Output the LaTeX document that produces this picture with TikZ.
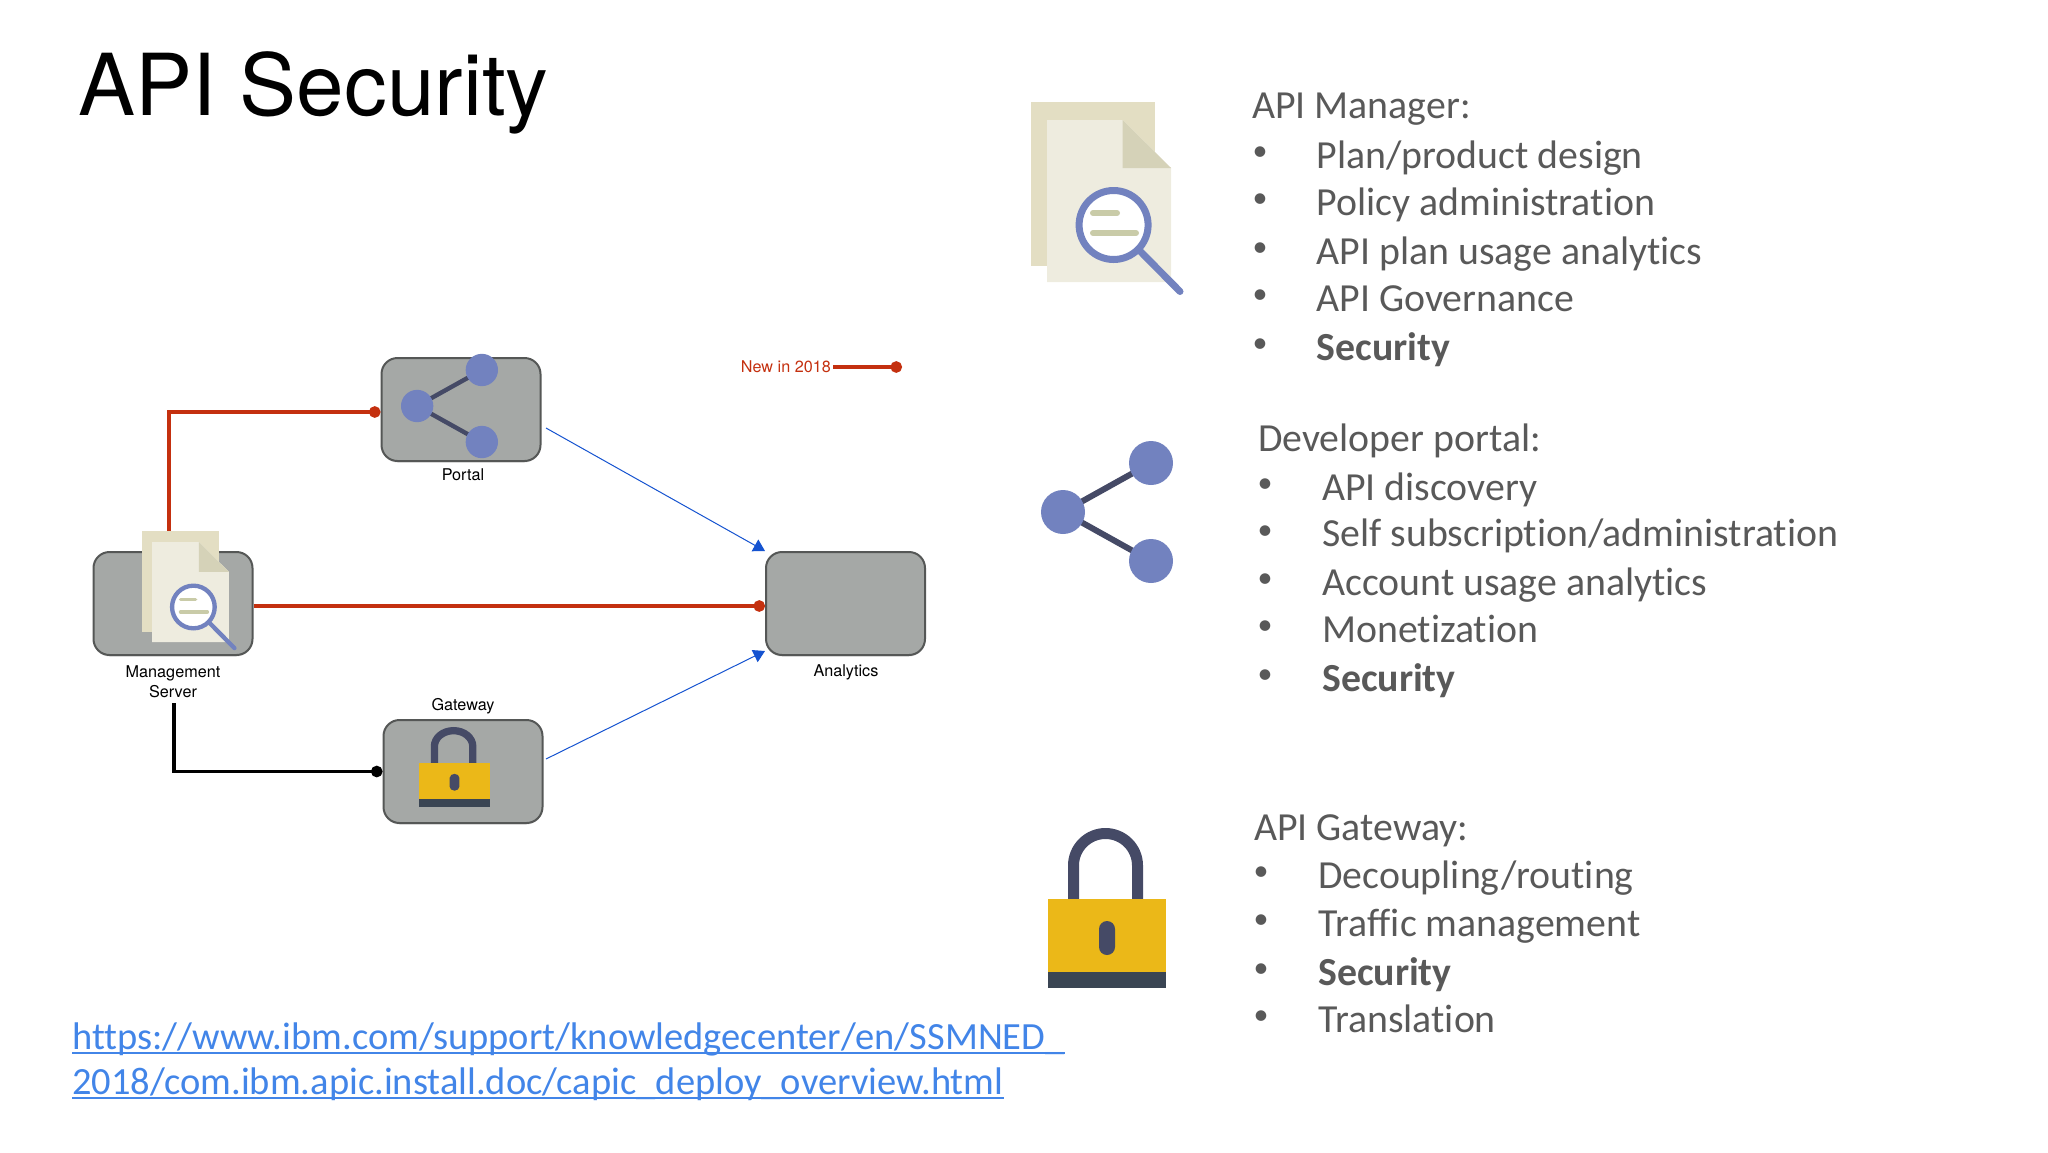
\documentclass[tikz,border=0pt]{standalone}
\usepackage{fontspec}
\setmainfont{Carlito}[RawFeature={-liga}]
\newfontfamily\helv{TeX Gyre Heros}
\usetikzlibrary{arrows.meta,shadows}
\definecolor{redline}{HTML}{C4300F}
\definecolor{blueline}{HTML}{1553D0}
\definecolor{boxgrey}{HTML}{A5A8A6}
\definecolor{boxedge}{HTML}{555756}
\definecolor{bodytext}{HTML}{595959}
\definecolor{linktext}{HTML}{4285E8}
\definecolor{ringblue}{HTML}{7282BF}
\definecolor{slate}{HTML}{454A66}
\definecolor{lockyellow}{HTML}{EBB818}
\definecolor{lockdark}{HTML}{3A4553}
\definecolor{docback}{HTML}{E3DEC3}
\definecolor{docfront}{HTML}{EEECDF}
\definecolor{docfold}{HTML}{D5D2B8}
\definecolor{docbar}{HTML}{C9CBA8}
\tikzset{
  box/.style={draw=boxedge,fill=boxgrey,line width=2pt,rounded corners=16pt,
    minimum width=159pt,minimum height=103pt,inner sep=0pt,
    drop shadow={shadow xshift=0pt,shadow yshift=-1.5pt,opacity=.25}},
  lbl/.style={font=\helv\fontsize{16.2}{20}\selectfont,align=center,inner sep=5pt},
  head/.style={anchor=base west,inner sep=0pt,yshift=-1pt,text=bodytext,font=\fontsize{39.8}{46}\selectfont},
  item/.style={head},
  dot/.style={anchor=base,inner sep=0pt,yshift=6.5pt,text=bodytext,font=\fontsize{30}{36}\selectfont},
  urlline/.style={anchor=base west,inner sep=0pt,text=linktext,font=\fontsize{38.5}{44}\selectfont},
  redwire/.style={draw=redline,line width=3.2pt,-{Circle[length=11.5pt]}},
  blackwire/.style={draw=black,line width=3.2pt,-{Circle[length=11.5pt]}},
  bluewire/.style={draw=blueline,line width=1pt,-{Triangle[length=11.5pt,width=13.3pt]}},
  pics/docicon/.style={code={
    \begin{scope}[scale=#1]
      \fill[docback] (-70.5,-90) rectangle (54,74);
      \fill[docfront] (-54,-72) -- (21.5,-72) -- (70,-24) -- (70,90) -- (-54,90) -- cycle;
      \fill[docfold] (21.5,-72) -- (21.5,-24) -- (70,-24) -- cycle;
      \draw[ringblue,line width=#1*7pt,line cap=round] (37,57) -- (79,99.5);
      \draw[ringblue,line width=#1*7pt,fill=white] (12.6,33) circle (34.5);
      \draw[docbar,line width=#1*6pt,line cap=round] (-8,21) -- (16,21) (-8,41) -- (35,41);
    \end{scope}
  }},
  pics/shareicon/.style={code={
    \begin{scope}[scale=#1]
      \draw[slate,line width=#1*6pt] (44,-49) -- (-44,0) -- (44,49);
      \foreach \cx/\cy in {-44/0,44/-49,44/49}
        \fill[ringblue] (\cx,\cy) circle (22);
    \end{scope}
  }},
  pics/lockicon/.style args={#1 and #2 and #3}{code={
    \begin{scope}[xscale=#1,yscale=#2]
      \draw[slate,line width=#3] (-33.5,0) -- (-33.5,-33.5) arc[start angle=180,end angle=360,radius=32] -- (30.5,0);
      \fill[lockyellow] (-59,0) rectangle (59,73);
      \fill[lockdark] (-59,73) rectangle (59,89);
      \fill[slate] (-8,30) arc[start angle=180,end angle=360,radius=8] -- (8,48) arc[start angle=0,end angle=180,radius=8] -- cycle;
    \end{scope}
  }}
}
\begin{document}
\begin{tikzpicture}[x=1pt,y=-1pt]
\useasboundingbox (0,0) rectangle (2048,1152);

\node[anchor=base west,inner sep=0pt,font=\helv\fontsize{85.5}{100}\selectfont] (title) at (78,115.5) {API Security};

% the four servers
\node[box] (mgmt) at (173,603.5) {};
\node[box] (portal) at (461,409.5) {};
\node[box] (gateway) at (463,771.5) {};
\node[box] (analytics) at (845.5,603.5) {};

\node[lbl] (mgmtlabel) at (173,682) {Management\\Server};
\node[lbl] (portallabel) at (463,475) {Portal};
\node[lbl] (gatewaylabel) at (463,706) {Gateway};
\node[lbl] (analyticslabel) at (846,672) {Analytics};

\coordinate (portalout) at (546,428);
\coordinate (gatewayout) at (546,759);
\coordinate (legendend) at (902,367);

\draw[redwire] ([xshift=-4pt]mgmt.north) |- ([yshift=-2.5pt]portal.west);
\draw[redwire] ([yshift=-2.5pt]mgmt.east) -- ([yshift=-2.5pt]analytics.west);
\draw[blackwire] ([xshift=1pt]mgmtlabel.south) |- (gateway.west);
\draw[bluewire] (portalout) -- (analytics.north west);
\draw[bluewire] (gatewayout) -- ([yshift=5pt]analytics.south west);

\node[lbl,text=redline,anchor=east,inner sep=2pt] (legend) at (833,367) {New in 2018};
\draw[redwire] (legend.east) -- (legendend);

% icons on the servers
\pic at (185.6,586.6) {docicon=.618};
\pic at (449.5,406) {shareicon=.735};
\pic at (454.5,763) {lockicon=.6 and .494 and 7.3pt};

% big icons
\pic at (1101,192) {docicon=1};
\pic at (1107,512) {shareicon=1};
\pic at (1107,899) {lockicon=1 and 1 and 11pt};

% api manager
\node[head] (mgrhead) at (1252,117) {API Manager:};
\foreach \yy/\txt [count=\i] in {167/{Plan/product design},214/{Policy administration},263/{API plan usage analytics},310/{API Governance},359/{\textbf{Security}}} {
  \node[dot] (mgrdot\i) at (1260,\yy) {•};
  \node[item] (mgritem\i) at (1316.5,\yy) {\txt};
}

% developer portal
\node[head] (devhead) at (1258,450) {Developer portal:};
\foreach \yy/\txt [count=\i] in {499/{API discovery},545.5/{Self subscription/administration},594/{Account usage analytics},641/{Monetization},690/{\textbf{Security}}} {
  \node[dot] (devdot\i) at (1265,\yy) {•};
  \node[item] (devitem\i) at (1322,\yy) {\txt};
}

% api gateway
\node[head] (gwhead) at (1254,839) {API Gateway:};
\foreach \yy/\txt [count=\i] in {887/{Decoupling/routing},935/{Traffic management},984/{\textbf{Security}},1031/{Translation}} {
  \node[dot] (gwdot\i) at (1261,\yy) {•};
  \node[item] (gwitem\i) at (1318,\yy) {\txt};
}

% link under the diagram
\node[urlline] (url1) at (72,1049) {https://www.ibm.com/support/knowledgecenter/en/SSMNED\_};
\node[urlline] (url2) at (72,1094) {2018/com.ibm.apic.install.doc/capic\_deploy\_overview.html};
\draw[linktext,line width=1.6pt] ([yshift=-4pt]url1.base west) -- ([yshift=-4pt]url1.base east);
\draw[linktext,line width=1.6pt] ([yshift=-4pt]url2.base west) -- ([yshift=-4pt]url2.base east);
\end{tikzpicture}
\end{document}
